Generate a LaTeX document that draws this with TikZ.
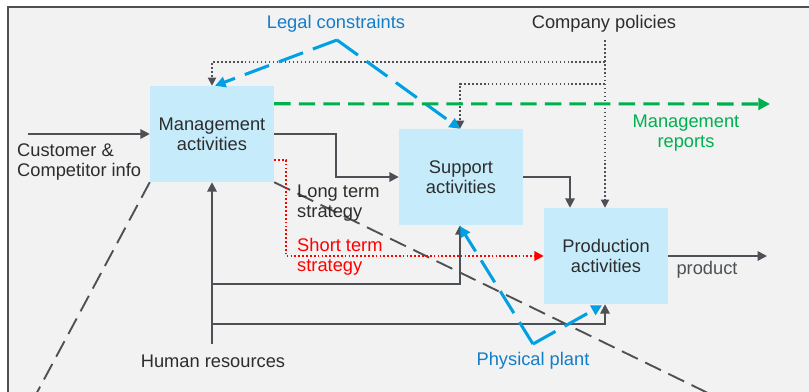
\documentclass[tikz,border=0pt]{standalone}
\usepackage{fontspec}
\setmainfont{Liberation Sans}
\usetikzlibrary{arrows.meta,positioning,calc}

\definecolor{boxblue}{RGB}{198,236,252}
\definecolor{bggray}{RGB}{242,242,242}
\definecolor{linegray}{RGB}{77,80,84}
\definecolor{txtgray}{RGB}{45,45,45}
\definecolor{plantblue}{RGB}{0,160,226}
\definecolor{labelblue}{RGB}{20,125,200}
\definecolor{reportgreen}{RGB}{0,176,80}

\begin{document}
\begin{tikzpicture}[x=0.03cm, y=-0.03cm,
  font=\fontsize{15.6}{17}\selectfont,
  activity/.style={fill=boxblue, text=txtgray, align=center, inner sep=0pt,
    minimum width=3.72cm, minimum height=2.88cm},
  txt/.style={text=txtgray, align=center, inner sep=0pt},
  flow/.style={draw=linegray, line width=1.6pt, -{Triangle[length=8pt,width=8pt]}},
  policy/.style={draw=linegray, line width=1.4pt, dotted, -{Triangle[length=7pt,width=7pt]}},
  legal/.style={draw=plantblue, line width=2.6pt, dash pattern=on 22pt off 9pt,
    -{Triangle[length=9pt,width=9pt]}},
  report/.style={draw=reportgreen, line width=2.6pt, dash pattern=on 14pt off 7pt,
    -{Triangle[length=10pt,width=10pt]}},
  strategy/.style={draw=red, line width=1.8pt, dash pattern=on 1.5pt off 1.8pt,
    -{Triangle[length=8pt,width=8pt]}},
  zoomline/.style={draw=linegray, line width=1.6pt, dash pattern=on 15pt off 7pt}
]
\useasboundingbox (0,0) rectangle (809,392);
\clip (0,0) rectangle (809,392);

% Fondo
\fill[bggray] (8,7) rectangle (809,392);
\draw[linegray, line width=1.7pt] (8,392) -- (8,7) -- (809,7);

% Actividades
\node[activity] (mgmt) at (212,134) {Management\\activities};
\node[activity] (supp) at (461,177) {Support\\activities};
\node[activity] (prod) at (606,256) {Production\\activities};

% Lineas de zoom
\draw[zoomline] (mgmt.south west) -- ++(-133,248);
\draw[zoomline] (mgmt.south east) -- ++(500,243);

% Entradas y salidas
\coordinate (custin) at (28,134);
\node[txt, anchor=west, align=left] (cust) at (17,162) {Customer \&\\Competitor info};
\draw[flow] (custin) -- (mgmt.west);

\draw[flow] (mgmt.east) -- ++(62,0) |- (supp.west);
\draw[flow] (supp.east) -| ($(prod.north)+(-36,0)$);

\coordinate (prodout) at (767,256);
\draw[flow] (prod.east) -- (prodout);
\node[txt, text=linegray] (product) at (707,270) {product};

% Politicas de la empresa
\node[txt] (policies) at (604,24) {Company policies};
\coordinate (polsrc) at (605,40);
\coordinate (polmgmt) at (605,62);
\coordinate (polsupp) at (605,84);
\draw[policy] (polsrc) -- (polsrc |- prod.north);
\draw[policy] (polmgmt) -| (mgmt.north);
\draw[policy] (polsupp) -| ($(supp.north)+(-1,0)$);

% Restricciones legales
\node[txt, text=labelblue] (legaltxt) at (336,24) {Legal constraints};
\coordinate (legalv) at (337,40);
\draw[legal] (legalv) -- ($(mgmt.north)+(3,0)$);
\draw[legal] (legalv) -- ($(supp.north)+(-1,0)$);

% Informes de gestion
\draw[report] ($(mgmt.north east)+(0,18)$) -- (770,104);
\node[txt, text=reportgreen] (reports) at (686,133) {Management\\reports};

% Estrategia
\draw[strategy] ($(mgmt.south east)+(0,-22)$) -- ++(12,0) |- (prod.west);
\node[txt, anchor=west, align=left] (longterm) at (297,203) {Long term\\strategy};
\node[txt, text=red, anchor=west, align=left] (shortterm) at (297,257) {Short term\\strategy};

% Recursos humanos
\node[txt] (hr) at (213,361) {Human resources};
\coordinate (hrtop) at (212,344);
\coordinate (hrsupp) at (212,284);
\coordinate (hrprod) at (212,324);
\draw[flow] (hrtop) -- (mgmt.south);
\draw[flow] (hrsupp) -| ($(supp.south)+(-1,0)$);
\draw[flow] (hrprod) -| ($(prod.south)+(-1,0)$);

% Planta fisica
\node[txt, text=labelblue] (plant) at (533,361) {Physical plant};
\coordinate (plantv) at (533,344);
\draw[legal] (plantv) -- ($(supp.south)+(-1,1)$);
\draw[legal] (plantv) -- ($(prod.south)+(-4,1)$);

\end{tikzpicture}
\end{document}
